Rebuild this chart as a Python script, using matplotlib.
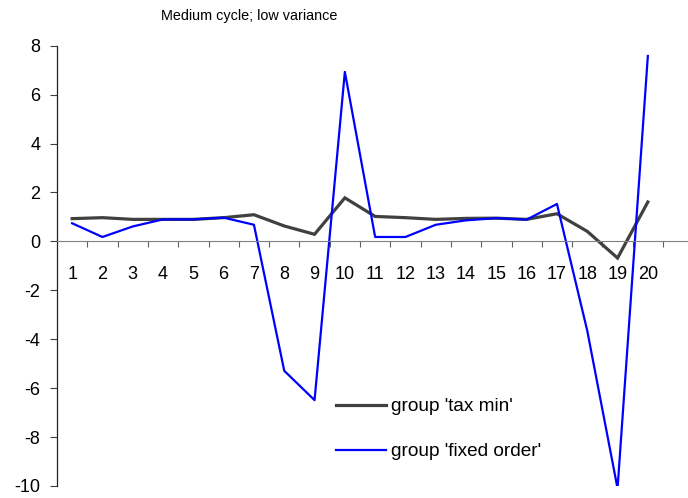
import matplotlib
matplotlib.use("Agg")
import matplotlib.pyplot as plt
import numpy as np

plt.rcParams['font.family'] = ['Liberation Sans', 'DejaVu Sans']
plt.rcParams['axes.unicode_minus'] = False

periods = list(range(1, 21))
tax_min = [0.93, 0.97, 0.90, 0.90, 0.90, 0.97, 1.09, 0.63, 0.29, 1.78,
           1.02, 0.97, 0.90, 0.94, 0.95, 0.90, 1.13, 0.41, -0.68, 1.61]
fixed_order = [0.74, 0.18, 0.61, 0.90, 0.90, 0.97, 0.68, -5.29, -6.49, 6.93,
               0.18, 0.18, 0.68, 0.86, 0.95, 0.89, 1.53, -3.65, -10.1, 7.58]
y_ticks = list(range(-10, 9, 2))
title = "Medium cycle; low variance"

fig = plt.figure(figsize=(6.88, 4.98), dpi=100)
ax = fig.add_axes([57 / 688, 12 / 498, 1 - 57 / 688, 440.3 / 498])

x = np.array(periods)
ax.plot(x, tax_min, color='#404040', lw=2.3, label="group 'tax min'", solid_joinstyle='miter')
ax.plot(x, fixed_order, color='#0000ff', lw=1.6, label="group 'fixed order'")

ax.set_ylim(-10, 8)
ax.set_xlim(0.5, 0.5 + 631 / 30.3)
ax.set_yticks(y_ticks)
ax.tick_params(axis='y', length=5, width=0.8, pad=7, labelsize=13, color='#404040')

# category boundaries get tick marks, labels sit at the centers
ax.set_xticks(np.arange(1.5, 21, 1.0))
ax.set_xticklabels([])
ax.set_xticks(x, minor=True)
ax.set_xticklabels([str(p) for p in periods], minor=True)
ax.tick_params(axis='x', which='major', length=4, width=0.8, color='#606060', direction='out')
ax.tick_params(axis='x', which='minor', length=0, pad=18, labelsize=13)

ax.spines['bottom'].set_position(('data', 0))
ax.spines['bottom'].set_color('#808080')
ax.spines['left'].set_color('#202020')
ax.spines['left'].set_linewidth(0.9)
ax.spines['top'].set_visible(False)
ax.spines['right'].set_visible(False)

ax.legend(loc='upper left', bbox_to_anchor=(319 / 688, 1 - 381 / 498),
          bbox_transform=fig.transFigure, frameon=False, fontsize=13.7,
          handlelength=2.6, handletextpad=0.3, labelspacing=1.45)

fig.text(249 / 688, 1 - 16 / 498, title, ha='center', va='center', fontsize=10.4)

fig.savefig('out.png', dpi=100)
